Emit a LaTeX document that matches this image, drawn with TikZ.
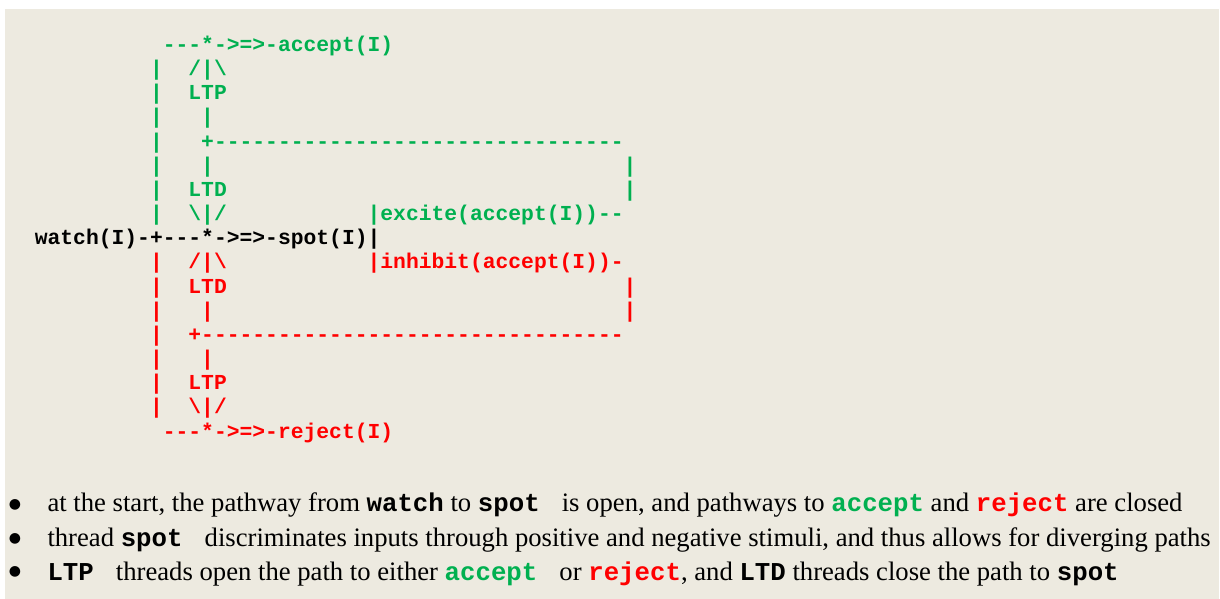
\documentclass[tikz,border=0pt]{standalone}
\usepackage{fontspec}
\setmainfont{Liberation Serif}
\setmonofont{Liberation Mono}
\newfontfamily\dotfont{DejaVu Sans}
\definecolor{paper}{RGB}{237,234,224}
\definecolor{accgreen}{RGB}{0,176,80}
\definecolor{rejred}{RGB}{255,0,0}
% grid of the monospaced sketch: column width and line pitch, in px units
\newcommand\cx[1]{34.8+12.8*#1}
\newcommand\ry[1]{51.5+24.16*#1}
\newcommand\code[1]{{\fontsize{19.3}{23}\selectfont\ttfamily\bfseries #1}}
\newcommand\bs{\textbackslash}
\tikzset{
  ascii/.style={inner sep=0pt, outer sep=0pt, anchor=base west,
                font=\fontsize{16}{16}\selectfont\ttfamily\bfseries},
  up/.style={ascii, text=accgreen},
  down/.style={ascii, text=rejred},
  main/.style={ascii, text=black},
  bullettext/.style={inner sep=0pt, outer sep=0pt, anchor=base west,
                font=\fontsize{20}{23}\selectfont},
  bulletdot/.style={inner sep=0pt, outer sep=0pt, anchor=center,
                font=\fontsize{10.5}{12}\selectfont\dotfont},
}
\begin{document}
\begin{tikzpicture}[x=0.75pt,y=-0.75pt]
\useasboundingbox (0,0) rectangle (1220,599);
\fill[white] (0,0) rectangle (1220,599);
\fill[paper] (5,9) rectangle (1219,599);

% accept branch
\node[up] (accept)  at ({\cx{10}},{\ry{0}}) {---*->=>-accept(I)};
\node[up] (ul1)     at ({\cx{9}},{\ry{1}})  {|};
\node[up] (uarrow)  at ({\cx{12}},{\ry{1}}) {/|\bs};
\node[up] (ul2)     at ({\cx{9}},{\ry{2}})  {|};
\node[up] (ultp)    at ({\cx{12}},{\ry{2}}) {LTP};
\node[up] (ul3)     at ({\cx{9}},{\ry{3}})  {|};
\node[up] (uv3)     at ({\cx{13}},{\ry{3}}) {|};
\node[up] (ul4)     at ({\cx{9}},{\ry{4}})  {|};
\node[up] (ubar)    at ({\cx{13}},{\ry{4}}) {+--------------------------------};
\node[up] (ul5)     at ({\cx{9}},{\ry{5}})  {|};
\node[up] (uv5)     at ({\cx{13}},{\ry{5}}) {|};
\node[up] (ur5)     at ({\cx{46}},{\ry{5}}) {|};
\node[up] (ul6)     at ({\cx{9}},{\ry{6}})  {|};
\node[up] (ultd)    at ({\cx{12}},{\ry{6}}) {LTD};
\node[up] (ur6)     at ({\cx{46}},{\ry{6}}) {|};
\node[up] (ul7)     at ({\cx{9}},{\ry{7}})  {|};
\node[up] (udown)   at ({\cx{12}},{\ry{7}}) {\bs|/};
\node[up] (excite)  at ({\cx{26}},{\ry{7}}) {|excite(accept(I))--};

% main line
\node[main] (watch) at ({\cx{0}},{\ry{8}}) {watch(I)-+---*->=>-spot(I)|};

% reject branch
\node[down] (dl9)     at ({\cx{9}},{\ry{9}})   {|};
\node[down] (darrow)  at ({\cx{12}},{\ry{9}})  {/|\bs};
\node[down] (inhibit) at ({\cx{26}},{\ry{9}})  {|inhibit(accept(I))-};
\node[down] (dl10)    at ({\cx{9}},{\ry{10}})  {|};
\node[down] (dltd)    at ({\cx{12}},{\ry{10}}) {LTD};
\node[down] (dr10)    at ({\cx{46}},{\ry{10}}) {|};
\node[down] (dl11)    at ({\cx{9}},{\ry{11}})  {|};
\node[down] (dv11)    at ({\cx{13}},{\ry{11}}) {|};
\node[down] (dr11)    at ({\cx{46}},{\ry{11}}) {|};
\node[down] (dl12)    at ({\cx{9}},{\ry{12}})  {|};
\node[down] (dbar)    at ({\cx{12}},{\ry{12}}) {+---------------------------------};
\node[down] (dl13)    at ({\cx{9}},{\ry{13}})  {|};
\node[down] (dv13)    at ({\cx{13}},{\ry{13}}) {|};
\node[down] (dl14)    at ({\cx{9}},{\ry{14}})  {|};
\node[down] (dltp)    at ({\cx{12}},{\ry{14}}) {LTP};
\node[down] (dl15)    at ({\cx{9}},{\ry{15}})  {|};
\node[down] (dup)     at ({\cx{12}},{\ry{15}}) {\bs|/};
\node[down] (reject)  at ({\cx{10}},{\ry{16}}) {---*->=>-reject(I)};

% notes
\node[bulletdot] (d1) at (15,505) {●};
\node[bullettext] (n1) at (47.5,511) {at the start, the pathway from \code{watch} to \code{spot~} is open, and pathways to \textcolor{accgreen}{\code{accept}} and \textcolor{rejred}{\code{reject}} are closed};
\node[bulletdot] (d2) at (15,538.5) {●};
\node[bullettext] (n2) at (47.5,546.5) {thread \code{spot~} discriminates inputs through positive and negative stimuli, and thus allows for diverging paths};
\node[bulletdot] (d3) at (15,572) {●};
\node[bullettext] (n3) at (47.5,580) {\code{LTP~} threads open the path to either \textcolor{accgreen}{\code{accept~}} or \textcolor{rejred}{\code{reject}}, and \code{LTD} threads close the path to \code{spot}};
\end{tikzpicture}
\end{document}
